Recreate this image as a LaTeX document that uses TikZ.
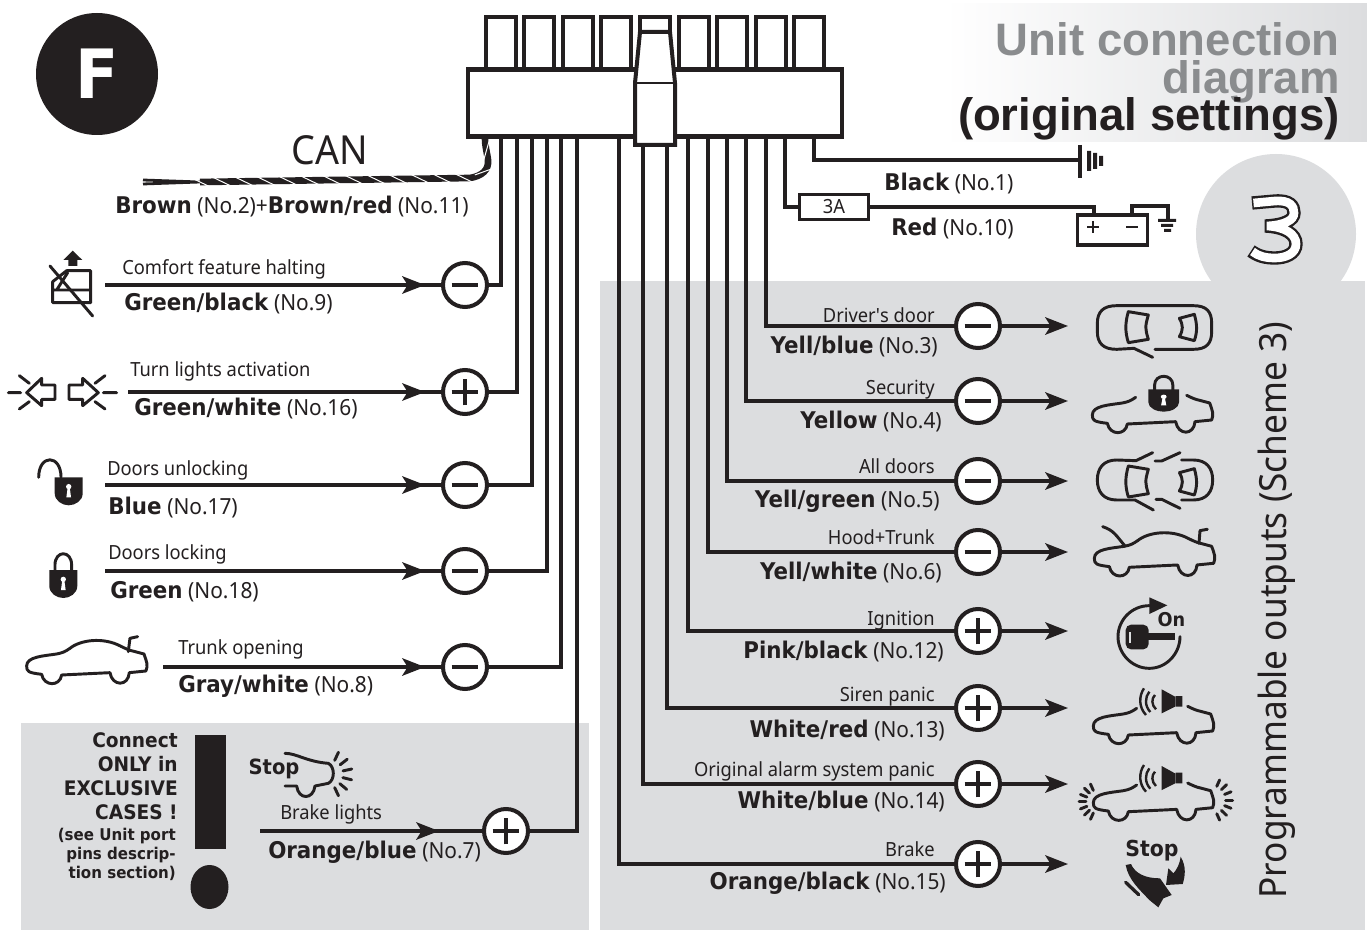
\documentclass[tikz,border=0pt]{standalone}
\usepackage{fontspec}
\usetikzlibrary{arrows.meta,calc,shadings,decorations.markings}
\setmainfont{Noto Sans}[FakeStretch=0.94,BoldFont={DejaVu Sans Bold},BoldFeatures={FakeStretch=0.93}]
\definecolor{ink}{HTML}{231F20}
\definecolor{panel}{HTML}{DCDDDF}
\definecolor{titlegray}{HTML}{8A8C8E}
\newcommand\fs[1]{\fontsize{\dimexpr #1pt*3/4\relax}{\dimexpr #1pt*9/10\relax}\selectfont}
\tikzset{
 wire/.style={draw=ink,line width=2.8pt},
 ic/.style={draw=ink,line width=2.2pt,line cap=round,line join=round},
 sgn/.style={circle,draw=ink,fill=white,line width=3pt,minimum size=33pt,inner sep=0pt},
 minussign/.style={sgn,path picture={\draw[ink,line width=3.5pt] ($(path picture bounding box.center)+(-10pt,0)$) -- ($(path picture bounding box.center)+(10pt,0)$);}},
 plussign/.style={sgn,path picture={\draw[ink,line width=3.5pt] ($(path picture bounding box.center)+(-10pt,0)$) -- ($(path picture bounding box.center)+(10pt,0)$) ($(path picture bounding box.center)+(0,-10pt)$) -- ($(path picture bounding box.center)+(0,10pt)$);}},
 tip/.style={-{Stealth[length=17pt,width=13pt,inset=4pt]}},
 lab/.style={text=ink,font=\fs{19.5},inner sep=0pt},
 blab/.style={text=ink,font=\fs{23},inner sep=0pt},
}
\newcommand\bt[2]{{\bfseries #1} {\fs{22.2}#2}}
\newcommand\carlow{(230,355) .. controls (215,365) and (210,368) .. (190,372) .. controls (150,378) and (100,380) .. (100,408) .. controls (100,425) and (105,428) .. (145,433) .. controls (152,470) and (200,470) .. (205,435) -- (350,428) .. controls (357,470) and (405,470) .. (408,428) -- (458,423) .. controls (465,405) and (460,395) .. (452,372) -- (422,364) .. controls (410,362) and (395,355) .. (383,349)}
\newcommand\carfull{(230,355) .. controls (260,330) and (330,320) .. (383,349)}
\begin{document}
\begin{tikzpicture}[x=0.75pt,y=-0.75pt]
\useasboundingbox (0,0) rectangle (1367,930);
\fill[white] (0,0) rectangle (1367,930);
% backgrounds
\shade[left color=white,right color=panel] (945,4) rectangle (1367,142);
\fill[panel] (1276,234) circle[radius=80];
\fill[panel] (600,281) rectangle (1365,930);
\fill[panel] (21,723) rectangle (589,930);
% badge
\node[circle,fill=ink,minimum size=91.5pt,inner sep=0pt,text=white,font=\fs{68}\bfseries] (badge) at (97,74) {F};
% title
\node[anchor=base east,inner sep=0pt,text=titlegray,font={\fontspec{Liberation Sans}\bfseries\fs{45.5}}] (title1) at (1340,56) {Unit connection};
\node[anchor=base east,inner sep=0pt,text=titlegray,font={\fontspec{Liberation Sans}\bfseries\fs{45.5}}] (title2) at (1340,94) {diagram};
\node[anchor=base east,inner sep=0pt,text=ink,font={\fontspec{Liberation Sans}\bfseries\fs{45.5}}] (title3) at (1340,131) {(original settings)};
% scheme 3
\draw[ink,line width=10pt,line join=miter] (1252,203) -- (1275,201) .. controls (1290,200) and (1294,206) .. (1294,213) .. controls (1294,220) and (1285,225) .. (1265,226) .. controls (1285,227) and (1296,234) .. (1296,244) .. controls (1296,254) and (1285,258) .. (1275,258) .. controls (1265,258) and (1258,256) .. (1251,251);
\draw[white,line width=6.5pt,line join=miter] (1253.5,203) -- (1275,201) .. controls (1290,200) and (1294,206) .. (1294,213) .. controls (1294,220) and (1285,225) .. (1267,226) .. controls (1285,227) and (1296,234) .. (1296,244) .. controls (1296,254) and (1285,258) .. (1275,258) .. controls (1265,258) and (1258,256) .. (1252.5,251.5);
\node[rotate=90,anchor=base,inner sep=0pt,text=ink,font=\fs{37.5}] (prog) at (1286,610) {Programmable outputs (Scheme 3)};
% wires to the unit
\coordinate (p2) at (485,137);
\foreach \i/\x in {9/501,16/517,17/532,18/547,8/561,7/577,15/619,14/643,13/667,12/688,6/708,5/727,4/746,3/766,10/785,1/814}
 \coordinate (p\i) at (\x,137);
% left rows
\foreach \id/\s/\y/\sx/\hx/\st/\tx/\ty/\tt/\bx/\by/\bb/\bn in {
 9/minussign/285/465/425/105/122/275/{Comfort feature halting}/124/311/{Green/black}/{(No.9)},
 16/plussign/392/465/425/128/130/377/{Turn lights activation}/134/416/{Green/white}/{(No.16)},
 17/minussign/485/465/425/105/107/475/{Doors unlocking}/108/514/{Blue}/{(No.17)},
 18/minussign/571/465/425/105/108/559/{Doors locking}/110/598/{Green}/{(No.18)},
 8/minussign/667/465/425/163/178/654/{Trunk opening}/178/692/{Gray/white}/{(No.8)},
 7/plussign/831/506/439/260/280/819/{Brake lights}/268/858/{Orange/blue}/{(No.7)}}{
 \coordinate (a\id) at (\st,\y);
 \coordinate (h\id) at (\hx,\y);
 \node[\s] (s\id) at (\sx,\y) {};
 \draw[wire] (a\id) -- (s\id);
 \draw[wire,tip] (a\id) -- (h\id);
 \draw[wire] (p\id) |- (s\id);
 \node[lab,anchor=base west] (t\id) at (\tx,\ty) {\tt};
 \node[blab,anchor=base west] (b\id) at (\bx,\by) {\bt{\bb}{\bn}};
}
% right rows
\foreach \id/\s/\y/\ty/\tt/\bx/\by/\bb/\bn in {
 3/minussign/326/323/{Driver\textquotesingle s door}/938/354/{Yell/blue}/{(No.3)},
 4/minussign/401/395/{Security}/942/428/{Yellow}/{(No.4)},
 5/minussign/481/473/{All doors}/940/507/{Yell/green}/{(No.5)},
 6/minussign/552/544/{Hood+Trunk}/942/579/{Yell/white}/{(No.6)},
 12/plussign/631/625/{Ignition}/944/658/{Pink/black}/{(No.12)},
 13/plussign/708/701/{Siren panic}/945/737/{White/red}/{(No.13)},
 14/plussign/784/776/{Original alarm system panic}/945/808/{White/blue}/{(No.14)},
 15/plussign/864/856/{Brake}/946/889/{Orange/black}/{(No.15)}}{
 \node[\s] (s\id) at (978,\y) {};
 \coordinate (h\id) at (1068,\y);
 \draw[wire] (p\id) |- (s\id);
 \draw[wire,tip] (s\id) -- (h\id);
 \node[lab,anchor=base east] (t\id) at (935,\ty) {\tt};
 \node[blab,anchor=base east] (b\id) at (\bx,\by) {\bt{\bb}{\bn}};
}
% CAN
\node[inner sep=0pt,anchor=base,text=ink,font=\fs{40}] (can) at (330,165) {CAN};
\coordinate (ca) at (143,180);
\coordinate (cc) at (143,184);
\coordinate (cd) at (200,182);
\coordinate (cb) at (470,178);
\draw[ink,line width=2.1pt] (ca) -- (cd) (cc) -- (cd);
\draw[ink,line width=5pt] (cd) -- (cb) .. controls (482,176) and (489,170) .. (488,160) .. controls (487,152) and (485,147) .. (p2);
\path[decorate,decoration={markings,mark=between positions 0 and 1 step 16.5pt with {\draw[white,line width=0.75pt] (-9,-4.5) -- (9,4.5);}}] (cd) -- (cb) .. controls (482,176) and (489,170) .. (488,160) .. controls (487,152) and (485,147) .. (p2);
\node[blab,anchor=base west,inner sep=0pt] (canlab) at (115,214) {{\bfseries Brown} {\fs{22.2}(No.2)+}{\bfseries Brown/red} {\fs{22.2}(No.11)}};
% black / ground
\coordinate (gnd) at (1080,160);
\draw[wire] (p1) |- (gnd);
\draw[ink,line width=2.5pt] (1080,145) -- (1080,178);
\fill[ink] (1087,151) rectangle (1091,171) (1093,153) rectangle (1097,169) (1099,156) rectangle (1103,166);
\node[blab,anchor=base west] (black) at (884,191) {\bt{Black}{(No.1)}};
% red / fuse / battery
\node[draw=ink,fill=white,line width=2.4pt,minimum width=52pt,minimum height=18.5pt,inner sep=0pt,font=\fs{19.5},text=ink] (fuse) at (834,207) {3A};
\node[draw=ink,fill=white,line width=2.4pt,minimum width=52pt,minimum height=22.5pt,inner sep=0pt] (batt) at (1112.5,230) {};
\coordinate (bp) at (1094,214);
\coordinate (bn) at (1132,214);
\coordinate (bc) at (1168,206);
\coordinate (bg) at (1168,219);
\draw[wire,line width=2.4pt] (p10) |- (fuse);
\draw[wire,line width=2.4pt] (fuse) -| (bp);
\draw[wire,line width=2.4pt] (bn) |- (bc) -- (bg);
\draw[ink,line width=1.7pt] (1093,221) -- (1093,233) (1087,227) -- (1099,227) (1126,227) -- (1138,227);
\fill[ink] (1158,219) rectangle (1176,222) (1161,224) rectangle (1173,227) (1164,229) rectangle (1171,232);
\node[blab,anchor=base west] (red) at (891,236) {\bt{Red}{(No.10)}};
% connector
\foreach \x in {486,524,563,601,640,679,717,756,794}
 \draw[draw=ink,fill=white,line width=3pt] (\x,17) rectangle (\x+30,75);
\node[draw=ink,fill=white,line width=3.3pt,minimum width=280.5pt,minimum height=50pt,inner sep=0pt] (unit) at (655,103) {};
\draw[draw=ink,fill=white,line width=3pt,line join=miter] (640,32) -- (670,32) -- (675,83) -- (675,145) -- (635,145) -- (635,83) -- cycle;
\draw[ink,line width=2.2pt] (635,83) -- (675,83);
% exclamation
\fill[ink] (195,735) rectangle (225.5,849);
\fill[ink] (209.5,887) ellipse[x radius=19,y radius=22];
\node[anchor=north east,align=right,inner sep=0pt,text=ink,font=\fs{20}\bfseries] (warn1) at (178,732) {Connect\\ONLY in\\EXCLUSIVE\\CASES !};
\node[anchor=north east,align=right,inner sep=0pt,text=ink,font=\fs{16.2}\bfseries] (warn2) at (176,827.5) {(see Unit port\\pins descrip-\\tion section)};
% stop car (brake lights)
\begin{scope}[shift={(20,720)},scale=1/3]
\draw[ic] (795,100) .. controls (830,100) and (860,125) .. (925,130) .. controls (945,140) and (945,180) .. (925,190) -- (885,198) .. controls (880,240) and (835,240) .. (830,198) -- (795,198);
\foreach \a in {-65,-38,-12,14,40,65} \draw[ic] ($(925,162)+(\a:45)$) -- ($(925,162)+(\a:72)$);
\end{scope}
\node[inner sep=0pt,text=ink,font=\fs{21}\bfseries] (stopa) at (274,769) {Stop};
% window icon
\begin{scope}[shift={(0,240)},scale=1/3]
\fill[ink] (190,60) -- (218,32) -- (247,60) -- (232,60) -- (232,78) -- (205,78) -- (205,60) -- cycle;
\draw[ic] (158,125) -- (200,92) -- (272,92) -- (272,188) -- (158,188) -- cycle (158,150) -- (272,150) (170,150) -- (203,98);
\draw[ic] (150,78) -- (278,228);
\end{scope}
% turn lights
\begin{scope}[shift={(0,240)},scale=1/3]
\draw[ic] (80,458) -- (125,415) -- (125,435) -- (165,435) -- (165,478) -- (125,478) -- (125,497) -- cycle;
\draw[ic] (295,458) -- (248,415) -- (248,435) -- (207,435) -- (207,478) -- (248,478) -- (248,497) -- cycle;
\draw[ic] (25,458) -- (62,458) (58,407) -- (88,430) (58,507) -- (88,485) (310,458) -- (350,458) (285,430) -- (315,407) (285,485) -- (315,507);
\end{scope}
% padlocks
\newcommand\lockbody{\fill[ink] (-42,0) -- (42,0) -- (42,48) .. controls (42,70) and (20,84) .. (0,84) .. controls (-20,84) and (-42,70) .. (-42,48) -- cycle;
 \fill[white] (0,28) circle[radius=8] (-3,30) -- (3,30) -- (7,60) -- (-7,60) -- cycle;}
\begin{scope}[shift={(68.7,477.3)},scale=1/3]
\lockbody
\draw[ic] (-90,0) .. controls (-90,-70) and (-23,-70) .. (-23,0);
\end{scope}
\begin{scope}[shift={(63.3,570)},scale=1/3]
\lockbody
\draw[ic] (-25,3) -- (-25,-15) .. controls (-25,-60) and (25,-60) .. (25,-15) -- (25,3);
\end{scope}
% cars, side view
\begin{scope}[shift={(-6.7,530)},scale=1/3]
\draw[ic] \carlow;
\draw[ic] \carfull;
\draw[ic] (405,365) -- (410,325) -- (433,320);
\end{scope}
\begin{scope}[shift={(1059,279)},scale=1/3]
\draw[ic] \carlow;
\end{scope}
\begin{scope}[shift={(1163.7,389.3)},scale=1/3,xscale=1.1,yscale=0.8]
\lockbody
\draw[ic] (-25,3) -- (-25,-15) .. controls (-25,-60) and (25,-60) .. (25,-15) -- (25,3);
\end{scope}
\begin{scope}[shift={(1061,422.3)},scale=1/3]
\draw[ic] \carlow;
\draw[ic] \carfull;
\draw[ic] (125,313) .. controls (160,325) and (165,340) .. (192,371);
\draw[ic] (414,363) -- (417,325) -- (439,321);
\end{scope}
% top views
\newcommand\windows[1]{\draw[ic] (205,65+#1) -- (265,75+#1) .. controls (255,110+#1) and (255,115+#1) .. (265,148+#1) -- (205,158+#1) .. controls (195,125+#1) and (195,100+#1) .. cycle;
\draw[ic] (358,85+#1) -- (403,73+#1) .. controls (412,105+#1) and (412,125+#1) .. (403,152+#1) -- (358,140+#1) .. controls (370,120+#1) and (370,105+#1) .. cycle;}
\begin{scope}[shift={(1060,290)},scale=1/3]
\draw[ic] (278,202) -- (222,175) -- (170,178) .. controls (130,178) and (112,160) .. (112,125) -- (112,100) .. controls (112,65) and (130,47) .. (170,47) -- (400,47) .. controls (440,47) and (455,65) .. (455,100) -- (455,125) .. controls (455,160) and (440,178) .. (400,178) -- (285,178);
\windows{0}
\draw[ic] (278,488) -- (228,512) -- (170,510) .. controls (130,510) and (112,535) .. (112,570) .. controls (112,605) and (130,630) .. (170,630) -- (225,630) -- (280,660);
\draw[ic] (285,513) -- (305,513) -- (360,488);
\draw[ic] (365,510) -- (400,510) .. controls (440,510) and (458,535) .. (458,570) .. controls (458,605) and (440,630) .. (400,630) -- (365,630);
\draw[ic] (288,628) -- (305,628) -- (360,655);
\windows{463}
\end{scope}
% key
\begin{scope}[shift={(1060,590)},scale=1/3]
\draw[ic] (268,47) .. controls (215,47) and (174,90) .. (174,140) .. controls (174,190) and (215,235) .. (268,235) .. controls (320,235) and (360,190) .. (360,140);
\fill[ink] (268,22) -- (322,46) -- (268,72) -- cycle;
\fill[ink,rounded corners=4pt] (197,104) rectangle (266,178);
\fill[ink] (260,130) rectangle (345,151);
\fill[panel] (206,125) rectangle (214,160);
\end{scope}
\node[inner sep=0pt,text=ink,font=\fs{19}\bfseries] (on) at (1171.5,620) {On};
% siren cars
\newcommand\siren{\fill[ink] (305,298) -- (345,320) -- (345,350) -- (305,370) -- cycle (347,318) rectangle (367,350);
\draw[ink,line width=1.8pt] (252,295) .. controls (236,318) and (236,352) .. (258,375) (268,305) .. controls (254,322) and (254,348) .. (271,366) (285,315) .. controls (274,325) and (274,345) .. (288,358);}
\begin{scope}[shift={(1060,590)},scale=1/3]
\draw[ic] \carlow;
\siren
\end{scope}
\begin{scope}[shift={(1060,666.7)},scale=1/3]
\draw[ic] \carlow;
\siren
\foreach \a in {-66,-44,-22,0,22,44,66} {\draw[ic] ($(452,400)+(\a:45)$) -- ($(452,400)+(\a:66)$);\draw[ic] ($(115,405)+(180+\a:37)$) -- ($(115,405)+(180+\a:58)$);}
\end{scope}
% foot
\node[inner sep=0pt,text=ink,font=\fs{22}\bfseries] (stopb) at (1152,851) {Stop};
\begin{scope}[shift={(1060,590)},scale=1/3]
\fill[ink] (197,825) -- (213,822) .. controls (225,850) and (255,865) .. (300,865) -- (335,915) -- (310,925) -- (295,952) -- (268,930) .. controls (240,900) and (205,870) .. (197,825) -- cycle;
\draw[ic,line width=2.5pt] (197,877) -- (236,914);
\fill[ink] (362,800) .. controls (380,830) and (375,860) .. (368,882) -- (318,885) -- (325,835) -- (340,850) .. controls (350,840) and (360,820) .. (362,800) -- cycle;
\end{scope}
\end{tikzpicture}
\end{document}
